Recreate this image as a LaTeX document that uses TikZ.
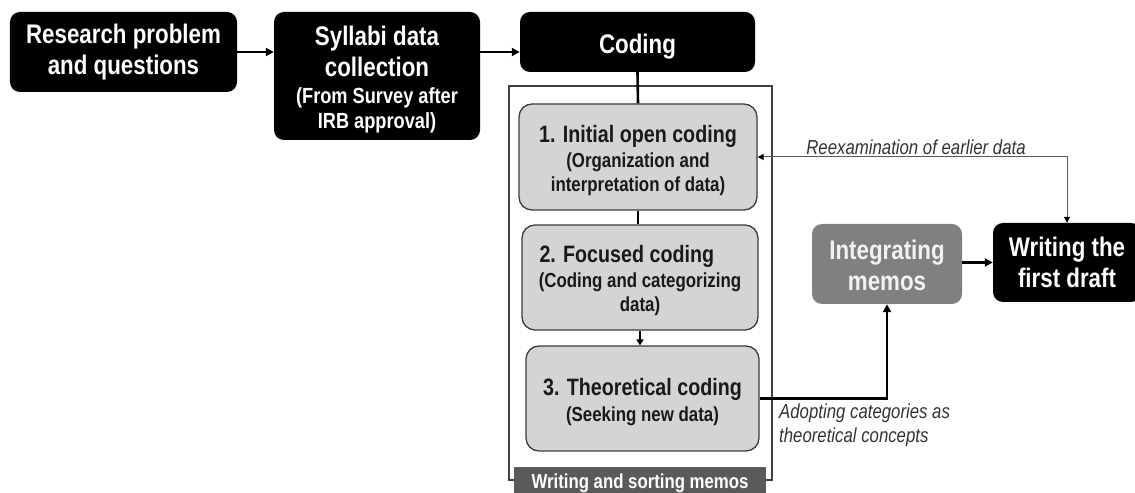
\documentclass[tikz,border=0pt]{standalone}
\usepackage{fontspec}
\setmainfont{Liberation Sans}[FakeStretch=0.83]
\usetikzlibrary{arrows.meta}

\definecolor{stagefill}{HTML}{D4D4D4}
\definecolor{stageedge}{HTML}{3C3C3C}
\definecolor{memofill}{HTML}{808080}
\definecolor{barfill}{HTML}{5A5A5A}
\definecolor{notegray}{HTML}{333333}
\definecolor{thingray}{HTML}{5A5A5A}
\definecolor{framegray}{HTML}{404040}

% type sizes
\newcommand\fbig{\fontsize{27}{31}\selectfont\bfseries}
\newcommand\fsyl{\fontsize{22}{24}\selectfont\bfseries}
\newcommand\fstage{\fontsize{23.8}{25}\selectfont\bfseries}
\newcommand\fsub{\fontsize{20.4}{23}\selectfont\bfseries}
\newcommand\fnote{\fontsize{20.3}{24}\selectfont\itshape}
\newcommand\fbar{\fontsize{20.3}{24}\selectfont\bfseries}
% invisible strut that lowers a text block inside its box
\newcommand\pushdown[1]{\rule{0pt}{#1}}

\tikzset{
  darkbox/.style={fill=black, rounded corners=10bp, text=white, align=center, inner sep=0pt, font=\fbig},
  stagebox/.style={fill=stagefill, draw=stageedge, line width=1.3bp, rounded corners=13bp,
                   text=black!90, align=center, inner sep=0pt, font=\fstage},
  memobox/.style={fill=memofill, rounded corners=10bp, text=white!95!black, align=center,
                  inner sep=0pt, font=\fbig},
  frame/.style={draw=framegray, line width=1.3bp, inner sep=0pt},
  sortbar/.style={fill=barfill, text=white, inner sep=0pt, font=\fbar},
  flow/.style={line width=2.6bp, -{Triangle[length=8bp,width=8bp]}},
  link/.style={line width=2.6bp},
  smallflow/.style={line width=2bp, -{Triangle[length=6bp,width=7bp]}},
  backflow/.style={draw=thingray, line width=1bp,
                   {Triangle[length=6bp,width=6bp,color=black]}-{Triangle[length=6bp,width=6bp,color=black]}},
  note/.style={text=notegray, font=\fnote, inner sep=0pt},
}

\begin{document}
\begin{tikzpicture}[x=1bp, y=-1bp]
\useasboundingbox (0,0) rectangle (1135,493);

% main pipeline
\node[darkbox, minimum width=227bp, minimum height=80bp] (res) at (123.5,52)
  {Research problem\\and questions};
\node[darkbox, minimum width=206bp, minimum height=128bp] (syl) at (377,76)
  {\pushdown{27bp}Syllabi data\\collection\\[-4bp]\fsyl (From Survey after\\[-6bp]\fsyl IRB approval)};
\node[darkbox, minimum width=235bp, minimum height=60bp] (cod) at (637.5,42)
  {\pushdown{28bp}Coding};

% frame holding the coding stages
\node[frame, minimum width=263bp, minimum height=394bp] (frm) at (640.5,283) {};
\begin{scope}
  \clip (0,0) rectangle (1135,493);
  \node[sortbar, minimum width=252bp, minimum height=32bp] (bar) at (640,483)
    {Writing and sorting memos};
  \node[darkbox, minimum width=148bp, minimum height=79bp] (wri) at (1067,262.5)
    {Writing the\\first draft};
\end{scope}

\node[stagebox, minimum width=238bp, minimum height=106bp] (b1) at (638,157)
  {\pushdown{23.5bp}1. Initial open coding\\\fsub (Organization and\\[-1bp]\fsub interpretation of data)};
\node[stagebox, minimum width=236bp, minimum height=105bp] (b2) at (640,277.5)
  {\pushdown{23.5bp}\makebox[201bp][l]{2. Focused coding}\\\fsub (Coding and categorizing\\[-1bp]\fsub data)};
\node[stagebox, minimum width=233bp, minimum height=105bp] (b3) at (642.5,398.5)
  {\pushdown{25bp}3. Theoretical coding\\[1bp]\fsub (Seeking new data)};

\node[memobox, minimum width=150bp, minimum height=80bp] (int) at (887,264)
  {\pushdown{22bp}Integrating\\memos};

% connectors
\draw[flow] (res.east) -- (res.east -| syl.west);
\draw[flow] (syl.east |- res.east) -- (cod.west |- res.east);
\draw[link] (cod.south) -- (b1.north);
\draw[link] (b1.south) -- (b1.south |- b2.north);
\draw[smallflow] (b2.south) -- (b2.south |- b3.north);
\draw[flow] (b3.east) -| (int.south);
\draw[flow] (int.east |- wri.west) -- (wri.west);
\draw[backflow] (b1.east) -| (wri.north);

% connector labels
\node[note] (reex) at (916,147) {Reexamination of earlier data};
\node[note, anchor=west, align=left] (adopt) at (779,425)
  {Adopting categories as\\theoretical concepts};
\end{tikzpicture}
\end{document}
